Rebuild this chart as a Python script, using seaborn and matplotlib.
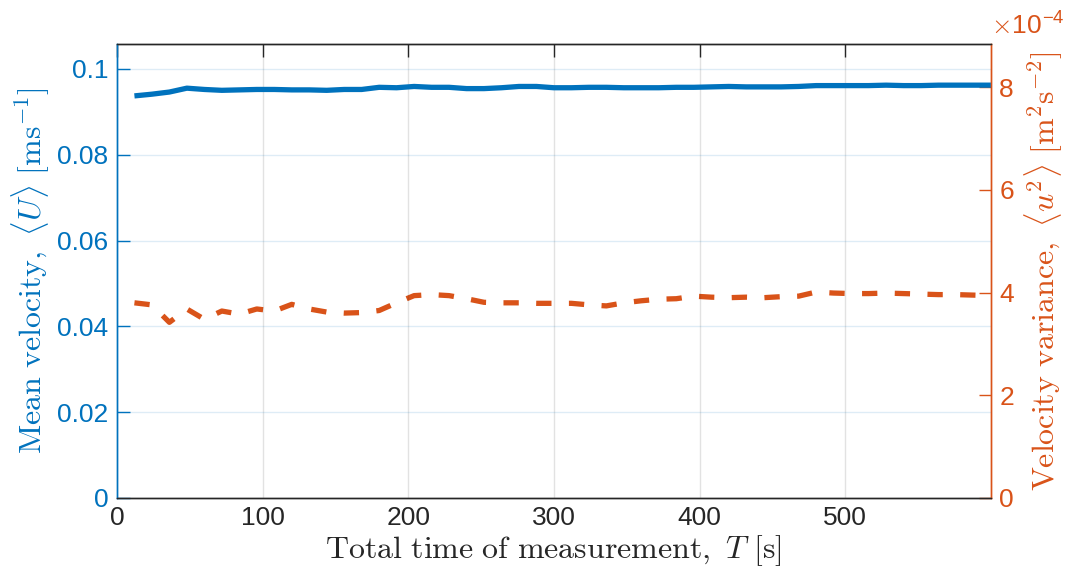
import numpy as np
import pandas as pd
import matplotlib
matplotlib.use("Agg")
import matplotlib.pyplot as plt
import seaborn as sns

# ---- data ----
T_s = [12, 24, 36, 48, 60, 72, 84, 96, 108, 120, 132, 144, 156, 168, 180, 192, 204,
       216, 228, 240, 252, 264, 276, 288, 300, 312, 324, 336, 348, 360, 372, 384, 396,
       408, 420, 432, 444, 456, 468, 480, 492, 504, 516, 528, 540, 552, 564, 576, 588, 600]
mean_U = [0.0937, 0.0941, 0.0946, 0.0955, 0.0952, 0.0950, 0.0951, 0.0952, 0.0952, 0.0951,
          0.0951, 0.0950, 0.0952, 0.0952, 0.0957, 0.0956, 0.0959, 0.0957, 0.0957, 0.0954,
          0.0954, 0.0956, 0.0959, 0.0959, 0.0956, 0.0956, 0.0957, 0.0957, 0.0956, 0.0956,
          0.0956, 0.0957, 0.0957, 0.0958, 0.0959, 0.0958, 0.0958, 0.0958, 0.0959, 0.0961,
          0.0961, 0.0961, 0.0961, 0.0962, 0.0961, 0.0961, 0.0962, 0.0962, 0.0962, 0.0962]
# velocity variance in units of 1e-4 m^2 s^-2
var_u2_e4 = [3.80, 3.76, 3.42, 3.68, 3.48, 3.64, 3.58, 3.68, 3.64, 3.77,
             3.68, 3.62, 3.60, 3.61, 3.65, 3.80, 3.94, 3.96, 3.94, 3.88,
             3.81, 3.80, 3.80, 3.79, 3.79, 3.79, 3.76, 3.74, 3.80, 3.84,
             3.87, 3.88, 3.93, 3.91, 3.90, 3.91, 3.90, 3.92, 3.93, 4.01,
             3.99, 3.98, 3.98, 3.99, 3.98, 3.97, 3.96, 3.96, 3.95, 3.94]
x_ticks = [0, 100, 200, 300, 400, 500]
left_ticks = [0, 0.02, 0.04, 0.06, 0.08, 0.1]
left_ticklabels = ["0", "0.02", "0.04", "0.06", "0.08", "0.1"]
right_ticks = [0, 2, 4, 6, 8]

df = pd.DataFrame({"T": T_s, "U": mean_U, "var": var_u2_e4})

BLUE = "#0072BD"
RED = "#D95319"
DARK = "#262626"

sns.set_style("white")
plt.rcParams["font.family"] = ["Liberation Sans", "DejaVu Sans"]
plt.rcParams["mathtext.fontset"] = "cm"

fig = plt.figure(figsize=(10.7, 5.84), dpi=100)
ax = fig.add_axes([0.1093, 0.1473, 0.8168, 0.7774])
ax2 = ax.twinx()

sns.lineplot(data=df, x="T", y="U", ax=ax, color=BLUE, linewidth=3.8, solid_capstyle="butt")
sns.lineplot(data=df, x="T", y="var", ax=ax2, color=RED, linewidth=3.8)
ax2.lines[0].set_dashes((2.9, 3.3))
ax2.lines[0].set_dash_capstyle("butt")

ax.set_xlim(0, 600)
ax.set_ylim(0, 0.1058)
ax2.set_ylim(0, 8.84)

ax.set_xticks(x_ticks)
ax.set_yticks(left_ticks)
ax.set_yticklabels(left_ticklabels)
ax2.set_yticks(right_ticks)
ax2.set_yticklabels([str(v) for v in right_ticks])

# grid
ax.grid(False)
ax2.grid(False)
for xv in x_ticks[1:]:
    ax.axvline(xv, color=DARK, alpha=0.13, linewidth=1.0, zorder=0)
for yv in left_ticks[1:]:
    ax.axhline(yv, color=BLUE, alpha=0.13, linewidth=1.0, zorder=0)

# spines
for a in (ax, ax2):
    a.spines["top"].set_color(DARK)
    a.spines["bottom"].set_color(DARK)
    a.spines["left"].set_color(BLUE)
    a.spines["right"].set_color(RED)
    for s in a.spines.values():
        s.set_linewidth(1.0)

TS = 19
ax.tick_params(axis="x", direction="in", length=9, width=1, colors=DARK, labelsize=TS,
               top=True, pad=6)
ax.tick_params(axis="y", direction="in", length=9, width=1, colors=BLUE, labelsize=TS,
               left=True, pad=6)
ax2.tick_params(axis="y", direction="in", length=9, width=1, colors=RED, labelsize=TS,
                right=True, pad=6)
ax2.tick_params(axis="x", top=False, bottom=False)

LS = 23
ax.set_xlabel(r"$\mathrm{Total\ time\ of\ measurement,}\ T\ [\mathrm{s}]$", fontsize=LS,
              color=DARK, labelpad=2)
ax.set_ylabel(r"$\mathrm{Mean\ velocity,}\ \langle U\rangle\ [\mathrm{ms}^{-1}]$", fontsize=LS,
              color=BLUE, labelpad=4)
ax2.set_ylabel(r"$\mathrm{Velocity\ variance,}\ \langle u^2\rangle\ [\mathrm{m}^2\mathrm{s}^{-2}]$",
               fontsize=LS, color=RED, labelpad=6)

ax2.text(1.0, 1.012, r"$\times$10$^{\mathregular{-4}}$", transform=ax2.transAxes,
         color=RED, fontsize=TS, ha="left", va="bottom")

ax.set_zorder(ax2.get_zorder() + 1)
ax.patch.set_visible(False)

fig.savefig("out.png", dpi=100)
